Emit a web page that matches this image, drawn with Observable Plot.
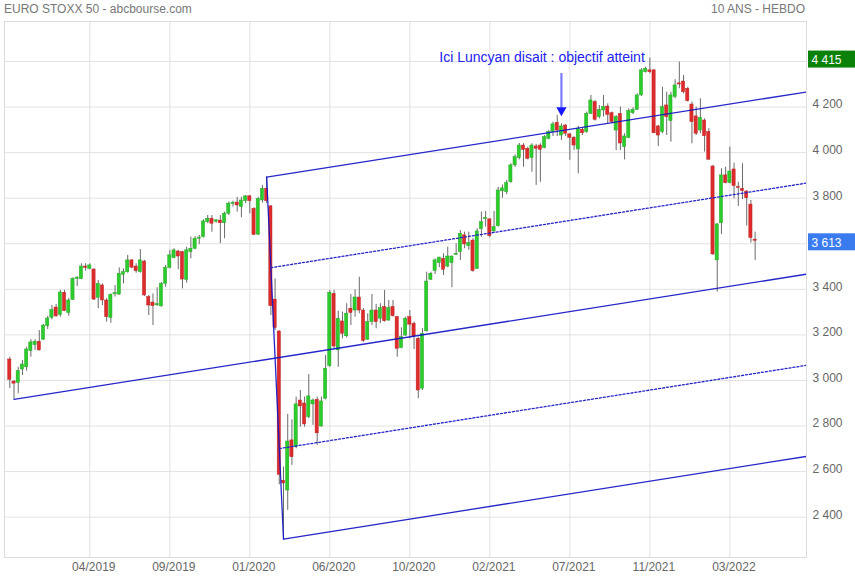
<!DOCTYPE html>
<html><head><meta charset="utf-8">
<script src="https://cdn.jsdelivr.net/npm/d3@7"></script>
<script src="https://cdn.jsdelivr.net/npm/@observablehq/plot@0.6"></script>
<style>
body{margin:0;background:#fff;font-family:"Liberation Sans",Arial,sans-serif;}
#wrap{width:855px;}
#head{position:relative;height:20px;font-size:12px;color:#777;}
#head .l{position:absolute;left:4px;top:2px;white-space:nowrap;}
#head .r{position:absolute;right:50px;top:2px;white-space:nowrap;}
svg{display:block;}
</style></head><body>
<div id="wrap"><div id="head"><span class="l">EURO STOXX 50 - abcbourse.com</span><span class="r">10 ANS - HEBDO</span></div><div id="chart"></div></div>
<script>
// Weekly candles, first week = 2018-12-17 (index 0)
const opens = [3092,2995,2990,3048,3058,3129,3155,3170,3179,3238,3275,3320,3287,3385,3297,3354,3446,3445,3500,3490,
3487,3363,3417,3351,3275,3378,3377,3464,3475,3527,3500,3475,3522,3366,3342,3330,3325,3424,3494,3537,
3566,3563,3442,3563,3578,3622,3629,3695,3710,3697,3702,3690,3732,3774,3781,3761,3787,3808,3753,3640,
3790,3841,3764,3355,3215,2560,2517,2737,2707,2912,2899,2839,2895,2915,2798,2920,3063,3380,3132,3259,
3194,3315,3307,3364,3307,3179,3256,3307,3271,3322,3263,3322,3278,3142,3197,3278,3249,3183,2964,3216,
3442,3480,3515,3534,3500,3515,3551,3563,3637,3590,3614,3490,3664,3708,3707,3654,3677,3830,3827,3870,
3944,3976,4031,4017,3976,4027,4031,4020,4061,4090,4131,4075,4119,4080,4065,4014,4100,4090,4170,4222,
4156,4185,4202,4173,4097,4170,4024,4065,4173,4188,4251,4353,4361,4361,4115,4090,4207,4138,4244,4304,
4312,4280,4211,4159,4097,4141,4090,3939,3527,3690,3900,3866,3926,3849,3841,3829,3772,3618];
const highs = [3102,3000,3058,3088,3146,3179,3179,3219,3246,3282,3329,3334,3395,3395,3359,3451,3456,3512,3512,3512,
3490,3439,3424,3359,3380,3417,3494,3490,3549,3531,3512,3575,3527,3373,3380,3407,3430,3505,3571,3578,
3571,3567,3585,3629,3632,3636,3705,3724,3724,3705,3724,3739,3783,3787,3804,3804,3812,3812,3758,3804,
3856,3892,3768,3446,3218,2620,2851,2827,2927,2956,2927,3026,2919,2927,2927,3110,3395,3395,3304,3300,
3337,3377,3398,3453,3315,3293,3377,3334,3337,3395,3351,3351,3282,3231,3278,3307,3256,3190,3227,3475,
3475,3534,3541,3556,3585,3546,3600,3658,3651,3651,3622,3666,3739,3742,3710,3742,3848,3858,3878,3951,
3990,4040,4039,4024,4039,4036,4039,4075,4097,4134,4163,4126,4124,4083,4071,4115,4109,4178,4251,4229,
4207,4251,4214,4178,4163,4200,4083,4192,4197,4258,4368,4375,4415,4364,4119,4287,4265,4265,4320,4397,
4339,4287,4222,4200,4236,4148,4105,3944,3688,3929,3936,4024,3954,3870,3951,3834,3790,3651];
const lows = [2964,2917,2942,3022,3041,3102,3132,3129,3176,3224,3266,3278,3278,3302,3282,3351,3412,3442,3480,3486,
3351,3315,3329,3256,3251,3366,3373,3424,3471,3490,3471,3471,3369,3285,3241,3325,3322,3409,3490,3534,
3486,3402,3427,3534,3574,3596,3626,3688,3651,3690,3600,3622,3724,3761,3739,3714,3776,3732,3636,3636,
3778,3776,3285,3219,2542,2304,2430,2627,2700,2795,2795,2832,2803,2715,2795,2915,3058,3139,3058,3183,
3187,3241,3278,3293,3168,3176,3241,3227,3249,3256,3260,3278,3102,3139,3194,3183,3136,2920,2956,3212,
3439,3465,3495,3461,3495,3407,3549,3527,3578,3571,3475,3487,3629,3673,3626,3651,3673,3800,3815,3866,
3935,3968,3936,3968,3914,3856,3870,4017,4056,4071,4071,4053,4071,3966,4010,3907,4075,4085,4167,4138,
4148,4156,4126,4126,4009,4009,3968,4061,4167,4185,4246,4349,4346,4083,4027,4083,4075,4046,4236,4280,
4258,4222,4039,4075,4083,4002,3966,3549,3388,3641,3863,3863,3797,3764,3794,3678,3603,3527];
const closes = [3003,2986,3041,3070,3136,3167,3170,3132,3241,3272,3310,3281,3386,3304,3351,3446,3451,3500,3494,3505,
3355,3424,3351,3278,3376,3383,3468,3475,3527,3495,3480,3527,3373,3329,3326,3335,3424,3494,3549,3571,
3544,3443,3571,3578,3622,3627,3698,3710,3688,3703,3690,3732,3776,3779,3768,3790,3808,3787,3639,3797,
3841,3787,3326,3230,2586,2548,2732,2663,2895,2886,2807,2930,2912,2768,2908,3051,3385,3149,3271,3205,
3293,3296,3364,3307,3173,3256,3307,3256,3317,3260,3317,3282,3139,3190,3271,3245,3193,2956,3205,3434,
3468,3527,3539,3486,3544,3544,3556,3644,3597,3603,3480,3654,3695,3714,3633,3673,3834,3843,3866,3944,
3980,4031,4012,3973,4031,4017,4012,4068,4090,4124,4097,4115,4083,4065,4031,4105,4085,4170,4229,4144,
4188,4200,4166,4134,4156,4040,4071,4182,4188,4251,4361,4368,4353,4085,4075,4200,4156,4251,4295,4299,
4265,4226,4134,4083,4153,4072,3969,3553,3685,3900,3866,3917,3853,3845,3831,3800,3625,3613];

// x tick labels (week index of each vertical grid line)
const tickWeeks = [19, 38, 57, 76, 95, 114, 133, 152, 171];
const tickLabels = ["04/2019","09/2019","01/2020","06/2020","10/2020","02/2021","07/2021","11/2021","03/2022"];
const yTicks = [2400,2600,2800,3000,3200,3400,3600,3800,4000,4200,4400];

// Andrews pitchfork pivots (week index, value)
const pivotWeeks = [1, 61, 65];
const pivotValues = [2917, 3892, 2304];

// annotation
const noteText = "Ici Luncyan disait : objectif atteint";
const noteWeek = 126.4, noteValue = 4398;
const arrowWeek = 131, arrowFrom = 4347, arrowTo = 4192, arrowTip = 4186;

const xDomain = [-1.26, 189.2];
const yDomain = [2223, 4575.5];
const xMax = xDomain[1];

const candles = opens.map((o, i) => ({i, o, h: highs[i], l: lows[i], c: closes[i], up: closes[i] >= o}));

const [A, B, C] = pivotWeeks.map((w, k) => ({i: w, v: pivotValues[k]}));
const M = {i: (B.i + C.i) / 2, v: (B.v + C.v) / 2};
const slope = (M.v - A.v) / (M.i - A.i);
const ext = (p, seg) => [{seg, i: p.i, v: p.v}, {seg, i: xMax, v: p.v + slope * (xMax - p.i)}];
const lerp = (t) => ({i: B.i + (C.i - B.i) * t, v: B.v + (C.v - B.v) * t});
const solid = [...ext(A, "m"), ...ext(B, "u"), ...ext(C, "d"), {seg: "bc", i: B.i, v: B.v}, {seg: "bc", i: C.i, v: C.v}];
const dotted = [...ext(lerp(0.25), "q1"), ...ext(lerp(0.75), "q3")];

const fmt = v => d3.format(",")(v).replace(/,/g, " ");
const tags = [{v: d3.max(highs), color: "#0a820a"}, {v: closes[closes.length - 1], color: "#3a7bef"}];

const font = "Liberation Sans, Arial, sans-serif";
const chart = Plot.plot({
  width: 855, height: 560,
  marginLeft: 4, marginRight: 49, marginTop: 1, marginBottom: 23,
  style: {fontFamily: font, background: "#fff", overflow: "visible"},
  x: {type: "linear", domain: xDomain, axis: null},
  y: {type: "linear", domain: yDomain, axis: null},
  marks: [
    Plot.ruleX(tickWeeks, {x: d => d, stroke: "#e2e2e2", strokeWidth: 1}),
    Plot.ruleY(yTicks, {y: d => d, stroke: "#e2e2e2", strokeWidth: 1}),
    Plot.frame({stroke: "#dcdcdc"}),
    Plot.ruleX(candles, {x: "i", y1: "l", y2: "h", stroke: "#6a6a6a", strokeWidth: 1}),
    Plot.rect(candles, {x1: d => d.i - 0.38, x2: d => d.i + 0.38, y1: "o", y2: "c",
      fill: d => d.up ? "#2ccc2c" : "#de2b2b", stroke: d => d.up ? "#24a824" : "#bf2424", strokeWidth: 0.5}),
    Plot.line(solid, {x: "i", y: "v", z: "seg", stroke: "#1414c4", strokeWidth: 1.3, strokeOpacity: 0.92, clip: true}),
    Plot.line(dotted, {x: "i", y: "v", z: "seg", stroke: "#2525cc", strokeWidth: 1.3, strokeDasharray: "2,2", clip: true}),
    Plot.text([noteText], {x: () => noteWeek, y: () => noteValue, text: d => d, fill: "#2222f0", fontSize: 14, lineAnchor: "bottom", textAnchor: "middle", fontFamily: font}),
    Plot.ruleX([arrowWeek], {x: d => d, y1: () => arrowFrom, y2: () => arrowTo, stroke: "#7b7bff", strokeWidth: 2.2}),
    Plot.dot([arrowWeek], {x: d => d, y: () => arrowTip, symbol: "triangle", rotate: 180, r: 3.8, fill: "#1818ff", stroke: "none"}),
    Plot.text(yTicks, {frameAnchor: "right", y: d => d, text: d => fmt(d), dx: 6, dy: -2.5, textAnchor: "start", fill: "#666", fontSize: 12, fontFamily: font}),
    Plot.text(tickWeeks, {x: d => d, frameAnchor: "bottom", text: (d, k) => tickLabels[k], dy: 13, dx: 4, fill: "#666", fontSize: 12, fontFamily: font}),
    Plot.text(tags, {frameAnchor: "right", y: "v", text: d => fmt(d.v), dx: 5, dy: 2, textAnchor: "start", fill: "white", fontSize: 12, fontFamily: font, className: "tag-text"})
  ]
});
document.getElementById("chart").append(chart);
const xs = chart.scale("x"), ys = chart.scale("y");
const tagLayer = chart.querySelector("g.tag-text");
const x0 = xs.apply(xMax) + 2;
tags.forEach(t => {
  const r = document.createElementNS("http://www.w3.org/2000/svg", "rect");
  r.setAttribute("x", x0);
  r.setAttribute("width", 855 - x0);
  r.setAttribute("y", ys.apply(t.v) + 1.5 - 8.5);
  r.setAttribute("height", 17);
  r.setAttribute("fill", t.color);
  tagLayer.parentNode.insertBefore(r, tagLayer);
});
</script></body></html>
